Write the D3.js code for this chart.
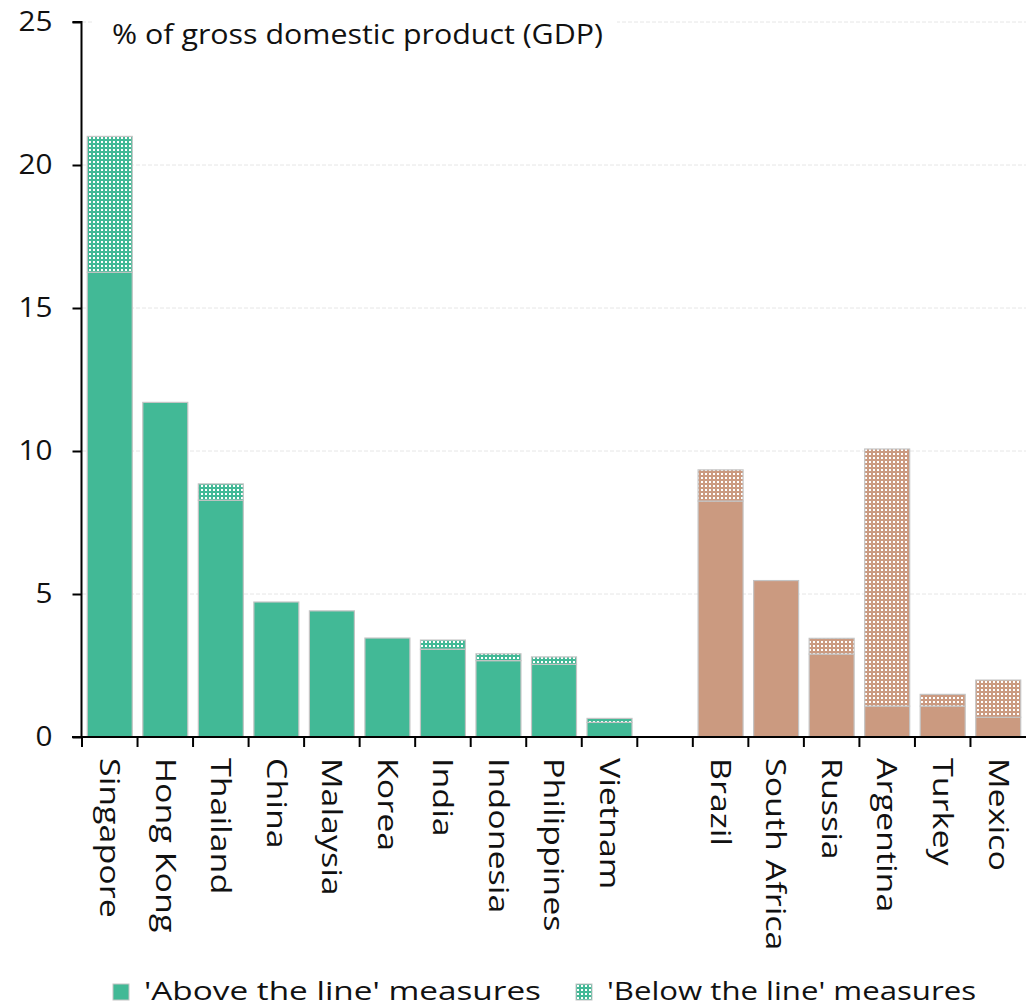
<!DOCTYPE html>
<html>
<head>
<meta charset="utf-8">
<script src="https://cdn.jsdelivr.net/npm/d3@7"></script>
<style>
  html, body { margin: 0; padding: 0; background: #fff; }
  text { font-family: "Open Sans", "DejaVu Sans", sans-serif; fill: #111; }
</style>
</head>
<body>
<svg id="chart" width="1026" height="1008"></svg>
<script>
// ---- data ----
const categories = ["Singapore","Hong Kong","Thailand","China","Malaysia","Korea","India","Indonesia","Philippines","Vietnam"," ","Brazil","South Africa","Russia","Argentina","Turkey","Mexico"];
const groups     = ["em","em","em","em","em","em","em","em","em","em","gap","la","la","la","la","la","la"];
const aboveLine  = [16.25,11.7,8.28,4.72,4.41,3.46,3.07,2.67,2.54,0.51,0,8.25,5.47,2.90,1.08,1.08,0.69];
const belowLine  = [4.75,0,0.57,0,0,0,0.32,0.24,0.26,0.14,0,1.09,0,0.55,8.99,0.41,1.30];
const yTicks     = [0,5,10,15,20,25];
const seriesNames = ["'Above the line' measures","'Below the line' measures"];
const axisTitle = "% of gross domestic product (GDP)";

const colors = { em: "#42B996", la: "#CB9A80" };

const svg = d3.select("#chart");
const margin = { left: 82, right: 0, top: 22 };
const W = 1026;
const plotBottom = 737;
const FS = 27;

// stretch text horizontally (wide geometric face in the original)
function stretch(sel, factor, target) {
  sel.each(function() {
    const len = this.getComputedTextLength();
    const t = target != null ? target : len * factor;
    d3.select(this).attr("textLength", t).attr("lengthAdjust", "spacingAndGlyphs");
  });
}

const x = d3.scaleBand().domain(categories).range([margin.left, W]).padding(0);
const y = d3.scaleLinear().domain([0, 25]).range([plotBottom, margin.top]);

// patterns
const defs = svg.append("defs");
Object.entries(colors).forEach(([k, c]) => {
  const p = defs.append("pattern").attr("id", "pat-" + k)
    .attr("patternUnits", "userSpaceOnUse").attr("width", 4).attr("height", 4);
  p.append("rect").attr("width", 4).attr("height", 4).attr("fill", c);
  p.append("rect").attr("x", 1).attr("y", 1).attr("width", 2).attr("height", 2).attr("fill", "#fff");
});

// gridlines
svg.append("g").selectAll("line").data(yTicks.filter(d => d > 0)).join("line")
  .attr("x1", margin.left).attr("x2", W)
  .attr("y1", d => y(d)).attr("y2", d => y(d))
  .attr("stroke", "#e6e6e6").attr("stroke-width", 1).attr("stroke-dasharray", "4,2");

// title box + title
svg.append("rect").attr("x", 92).attr("y", 8).attr("width", 525).attr("height", 44).attr("fill", "#fff");
svg.append("text").attr("x", 112).attr("y", 44).attr("font-size", FS).text(axisTitle)
  .call(stretch, 1, 491);

// stacked bars
const rows = categories.map((c, i) => ({ cat: c, group: groups[i], above: aboveLine[i], below: belowLine[i] }));
const stack = d3.stack().keys(["above", "below"])(rows);
const bw = x.bandwidth() * 0.81;
const off = (x.bandwidth() - bw) / 2;

stack.forEach(layer => {
  svg.append("g").selectAll("rect")
    .data(layer.filter(d => d.data.group !== "gap" && d[1] - d[0] > 0))
    .join("rect")
    .attr("x", d => x(d.data.cat) + off)
    .attr("width", bw)
    .attr("y", d => y(d[1]))
    .attr("height", d => y(d[0]) - y(d[1]))
    .attr("fill", d => layer.key === "above" ? colors[d.data.group] : `url(#pat-${d.data.group})`)
    .attr("stroke", "#c4c4c4").attr("stroke-width", 1.2);
});

// y axis
const yAxis = d3.axisLeft(y).tickValues(yTicks).tickSize(9).tickPadding(20).tickFormat(d3.format("d"));
const gy = svg.append("g").attr("transform", `translate(${margin.left - 0.5},0)`).call(yAxis);
gy.select(".domain").attr("stroke", "#000").attr("stroke-width", 2).attr("d", `M-9,${y(25)}H0V${plotBottom}`);
gy.selectAll(".tick line").attr("stroke", "#000").attr("stroke-width", 2);
gy.selectAll(".tick text").attr("font-size", FS).attr("font-family", "Open Sans, DejaVu Sans, sans-serif").attr("fill", "#111")
  .call(stretch, 1.1);

// x axis line
svg.append("line").attr("x1", margin.left - 10).attr("x2", W).attr("y1", plotBottom).attr("y2", plotBottom)
  .attr("stroke", "#000").attr("stroke-width", 2);
// x ticks at band boundaries
svg.append("g").selectAll("line").data(categories).join("line")
  .attr("x1", d => x(d)).attr("x2", d => x(d))
  .attr("y1", plotBottom).attr("y2", plotBottom + 10)
  .attr("stroke", "#000").attr("stroke-width", 2);

// x labels rotated
svg.append("g").selectAll("text").data(categories.filter(c => c.trim() !== "")).join("text")
  .attr("transform", d => `translate(${x(d) + x.bandwidth() / 2},758) rotate(90)`)
  .attr("dy", "0.36em")
  .attr("font-size", FS)
  .text(d => d)
  .call(stretch, 1.26);

// legend
const legend = svg.append("g");
const legItems = [
  { name: seriesNames[0], fill: colors.em, x: 113, w: 397 },
  { name: seriesNames[1], fill: "url(#pat-em)", x: 576, w: 369 }
];
legItems.forEach(it => {
  legend.append("rect").attr("x", it.x).attr("y", 984).attr("width", 16).attr("height", 16)
    .attr("fill", it.fill).attr("stroke", "#c4c4c4").attr("stroke-width", 1);
  legend.append("text").attr("x", it.x + 31).attr("y", 1000).attr("font-size", 25).text(it.name)
    .call(stretch, 1, it.w);
});
</script>
</body>
</html>
